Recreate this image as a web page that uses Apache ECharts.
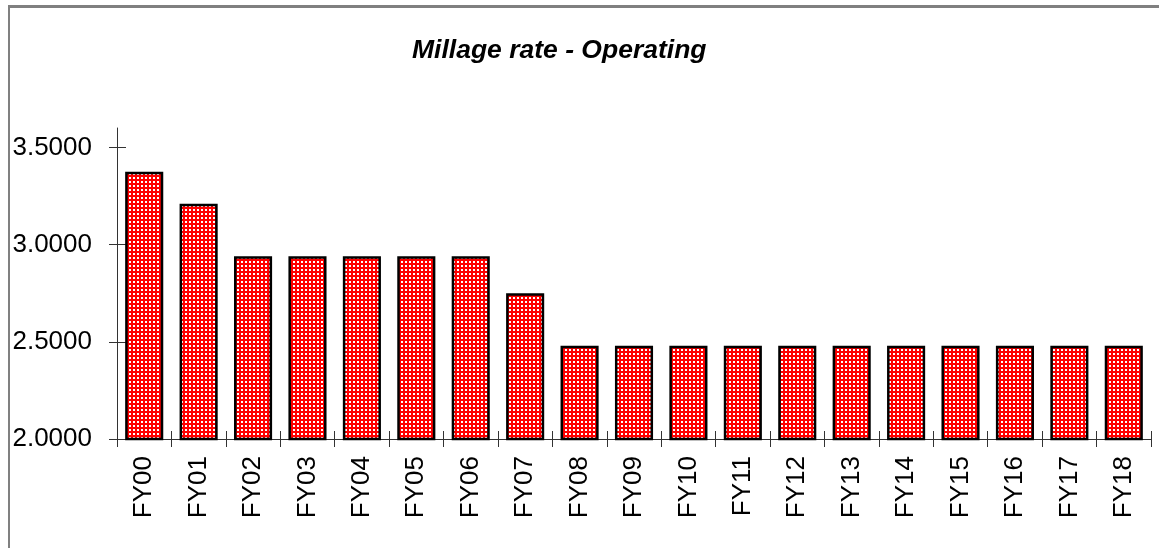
<!DOCTYPE html>
<html>
<head>
<meta charset="utf-8">
<script src="https://cdn.jsdelivr.net/npm/echarts@6/dist/echarts.min.js"></script>
<style>
html, body { margin: 0; padding: 0; background: #fff; }
#frame { position: absolute; left: 8px; top: 5px; width: 1151px; height: 543px;
	border-top: 3px solid #808080; border-left: 2px solid #808080; box-sizing: border-box; pointer-events: none; }
#mainChart { position: absolute; left: 0; top: 0; width: 1159px; height: 548px; }
</style>
</head>
<body>
<div id="mainChart"></div>
<div id="frame"></div>
<script>
var years = ['FY00','FY01','FY02','FY03','FY04','FY05','FY06','FY07','FY08','FY09',
	'FY10','FY11','FY12','FY13','FY14','FY15','FY16','FY17','FY18'];
var rates = [3.375, 3.21, 2.94, 2.94, 2.94, 2.94, 2.94, 2.75, 2.48, 2.48,
	2.48, 2.48, 2.48, 2.48, 2.48, 2.48, 2.48, 2.48, 2.48];
var yTicks = [2.0, 2.5, 3.0, 3.5];

window.onload = function() {
	chartPanel.init();
};

var chartPanel = {
	init : function() {
		// red with white dots
		var pat = document.createElement('canvas');
		pat.width = 4;
		pat.height = 4;
		var ctx = pat.getContext('2d');
		ctx.fillStyle = '#ff0000';
		ctx.fillRect(0, 0, 4, 4);
		ctx.fillStyle = '#ffffff';
		ctx.fillRect(1, 1, 2, 2);

		var font = 'Liberation Sans';
		var axisColor = '#333333';
		var option = {
			animation: false,
			title: {
				text: 'Millage rate - Operating',
				left: 407,
				top: 32,
				textStyle: {
					fontFamily: font,
					fontSize: 26.5,
					fontWeight: 'bold',
					fontStyle: 'italic',
					color: '#000'
				}
			},
			grid: {
				left: 117,
				right: 8,
				top: 128,
				bottom: 109
			},
			xAxis: [{
				type: 'category',
				data: years,
				axisLine: { show: true, lineStyle: { color: axisColor, width: 1 } },
				axisTick: { show: true, interval: 0, length: 8, lineStyle: { color: axisColor, width: 1 } },
				axisLabel: {
					rotate: 90,
					margin: 17,
					interval: 0,
					fontFamily: font,
					fontSize: 26,
					color: '#000'
				}
			}, {
				type: 'category',
				data: years,
				position: 'bottom',
				axisLine: { show: false },
				axisTick: { show: true, interval: 0, inside: true, length: 8, lineStyle: { color: axisColor, width: 1 } },
				axisLabel: { show: false }
			}],
			yAxis: [{
				type: 'value',
				min: 2,
				max: 3.6,
				interval: 0.5,
				splitLine: { show: false },
				axisLine: { show: true, lineStyle: { color: axisColor, width: 1 } },
				axisTick: { show: true, length: 8, customValues: yTicks, lineStyle: { color: axisColor } },
				axisLabel: {
					customValues: yTicks,
					margin: 25,
					fontFamily: font,
					fontSize: 26,
					color: '#000',
					formatter: function(v) { return v.toFixed(4); }
				}
			}, {
				type: 'value',
				position: 'left',
				min: 2,
				max: 3.6,
				interval: 0.5,
				splitLine: { show: false },
				axisLine: { show: false },
				axisTick: { show: true, inside: true, length: 9, customValues: yTicks, lineStyle: { color: axisColor } },
				axisLabel: { show: false }
			}],
			series: [{
				type: 'bar',
				xAxisIndex: 0,
				yAxisIndex: 0,
				barWidth: '70%',
				data: rates,
				itemStyle: {
					color: { image: pat, repeat: 'repeat' },
					borderColor: '#000',
					borderWidth: 2.5
				}
			}]
		};
		var mainChart = echarts.init(document.getElementById('mainChart'));
		mainChart.setOption(option);
	}
};
</script>
</body>
</html>
